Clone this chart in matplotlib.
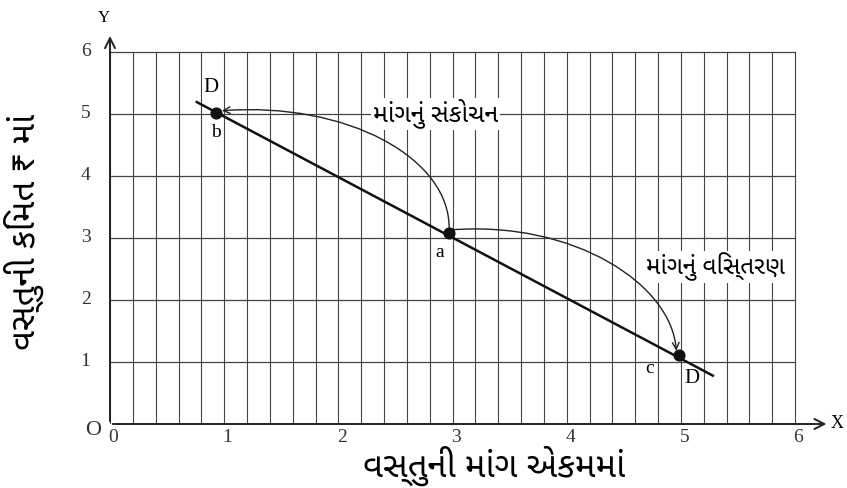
# demand curve: contraction and extension of demand

import matplotlib.pyplot as plt
from matplotlib.patches import FancyArrowPatch
from matplotlib.path import Path

guj = ['Noto Sans Gujarati', 'Lohit Gujarati', 'Noto Sans', 'DejaVu Sans']
serif = 'Liberation Serif'

x_ticks = [0, 1, 2, 3, 4, 5, 6]
y_ticks = [1, 2, 3, 4, 5, 6]

line_x = [0.76, 5.28]
line_y = [5.19, 0.78]

pt_names = ['b', 'a', 'c']
pt_x = [0.93, 2.97, 4.98]
pt_y = [5.02, 3.08, 1.12]

fig = plt.figure(figsize=(8.47, 4.88), dpi=100)
ax = fig.add_axes([110/847, 64/488, 725/847, 397/488])
ax.set_xlim(0, 6.35)
ax.set_ylim(0, 6.4)
ax.axis('off')

# grid
for i in range(31):
    ax.plot([i * 0.2, i * 0.2], [0, 6], color='#444444', lw=0.8, zorder=1)
for v in y_ticks:
    ax.plot([-0.12, 6], [v, v], color='#444444', lw=0.9, zorder=1)

# axes with arrows
ax.annotate('', xy=(0, 6.3), xytext=(0, 0),
            arrowprops=dict(arrowstyle='->', color='#222222', lw=1.4, mutation_scale=18))
ax.annotate('', xy=(6.3, 0), xytext=(0, 0),
            arrowprops=dict(arrowstyle='->', color='#222222', lw=1.4, mutation_scale=18))
ax.text(-0.05, 6.55, 'Y', fontsize=12, family=serif, ha='center', va='center', clip_on=False)
ax.text(6.31, 0.0, 'X', fontsize=13, family=serif, ha='left', va='center', clip_on=False)

for v in x_ticks:
    ax.text(v + 0.03, -0.22, str(v), fontsize=14, family=serif, ha='center', va='center', color='#333333')
for v in y_ticks:
    ax.text(-0.17, v, str(v), fontsize=14, family=serif, ha='right', va='center', color='#333333')
ax.text(-0.15, -0.1, 'O', fontsize=16, family=serif, ha='center', va='center', color='#333333')

# demand line and points
ax.plot(line_x, line_y, color='#111111', lw=1.8, zorder=3)
ax.scatter(pt_x, pt_y, s=60, color='#111111', zorder=4)

ax.text(0.88, 5.42, 'D', fontsize=15, family=serif, ha='center', va='center')
ax.text(5.1, 0.74, 'D', fontsize=15, family=serif, ha='center', va='center')
ax.text(0.93, 4.7, pt_names[0], fontsize=14, family=serif, ha='center', va='center')
ax.text(2.89, 2.76, pt_names[1], fontsize=14, family=serif, ha='center', va='center')
ax.text(4.73, 0.9, pt_names[2], fontsize=14, family=serif, ha='center', va='center')


def curved_arrow(x0, y0, x3, y3, x1, y1, x2, y2):
    path = Path([(x0, y0), (x1, y1), (x2, y2), (x3, y3)],
                [Path.MOVETO, Path.CURVE4, Path.CURVE4, Path.CURVE4])
    ax.add_patch(FancyArrowPatch(path=path, arrowstyle='->', color='#222222',
                                 lw=1.0, mutation_scale=12, zorder=2))


# a -> b (contraction), a -> c (extension)
ax0, ay0 = pt_x[1], pt_y[1] + 0.05
bx, by = pt_x[0] + 0.05, pt_y[0] + 0.03
cx, cy = pt_x[2] - 0.02, pt_y[2] + 0.06
curved_arrow(ax0, ay0, bx, by, ax0 + 0.02, ay0 + 0.6 * (by - ay0),
             bx + 0.55 * (ax0 - bx), by + 0.15)
curved_arrow(ax0 + 0.02, ay0, cx, cy, ax0 + 0.55 * (cx - ax0), ay0 + 0.15,
             cx - 0.04, cy + 0.55 * (ay0 - cy))

ax.text(2.85, 5.0, 'માંગનું સંકોચન', fontsize=18, family=guj, ha='center', va='center',
        bbox=dict(facecolor='white', edgecolor='none', pad=1), zorder=5)
ax.text(5.3, 2.53, 'માંગનું વિસ્તરણ', fontsize=17.5, family=guj, ha='center', va='center',
        bbox=dict(facecolor='white', edgecolor='none', pad=1), zorder=5)

fig.text(494/847, 22/488, 'વસ્તુની માંગ એકમમાં', fontsize=25, fontweight='bold',
         family=guj, ha='center', va='center')
fig.text(24/847, 256/488, 'વસ્તુની કિંમત ₹ માં', fontsize=25, fontweight='bold',
         family=guj, ha='center', va='center', rotation=90)

fig.savefig('out.png', dpi=100)
